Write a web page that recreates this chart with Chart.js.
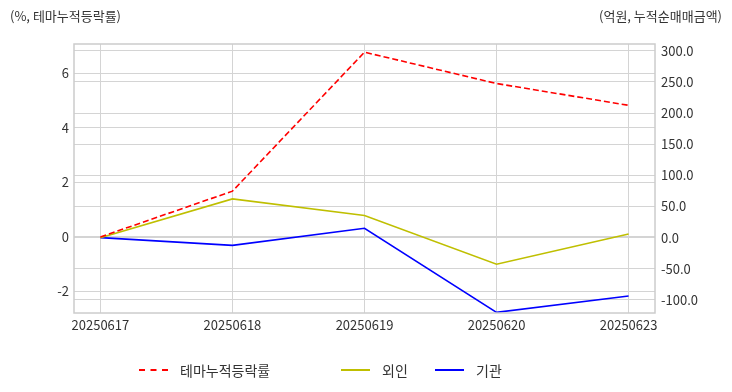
<!DOCTYPE html>
<html>
<head>
<meta charset="utf-8">
<script src="https://cdn.jsdelivr.net/npm/chart.js@4"></script>
<style>
  body { margin: 0; background: #fff; }
  .wrap { position: relative; width: 732px; height: 392px; font-family: "Noto Sans CJK KR", "Noto Sans", sans-serif; color: #333; }
  .axis-title { position: absolute; top: 6px; font-size: 13px; }
  .legend { position: absolute; top: 360px; left: 0; width: 732px; height: 20px; font-size: 14px; }
  .legend .item { position: absolute; top: 0; display: flex; align-items: center; height: 20px; }
  .legend .swatch { width: 29px; height: 0; margin-right: 12px; }
</style>
</head>
<body>
<div class="wrap">
  <canvas id="chart" width="732" height="392"></canvas>
  <div class="axis-title" style="left:10px">(%, 테마누적등락률)</div>
  <div class="axis-title" style="right:10px">(억원, 누적순매매금액)</div>
  <div class="legend" id="legend"></div>
</div>
<script>
const dates = ['20250617', '20250618', '20250619', '20250620', '20250623'];
const themeReturn = [0, 1.68, 6.78, 5.63, 4.83];
const foreignNet = [0, 62.2, 35.7, -42.6, 6.0];
const institutionNet = [0, -12.4, 15.0, -120.0, -93.6];
const leftTicks = [-2, 0, 2, 4, 6];
const rightTicks = [-100, -50, 0, 50, 100, 150, 200, 250, 300];

const tickFont = { family: '"Noto Sans CJK KR", "Noto Sans", sans-serif', size: 13 };
const gridColor = '#d4d4d4';

const seriesDefs = [
  { label: '테마누적등락률', data: themeReturn, color: '#ff0000', dash: [6, 3], axis: 'y', legendLeft: 139 },
  { label: '외인', data: foreignNet, color: '#bfbf00', dash: [], axis: 'y1', legendLeft: 341 },
  { label: '기관', data: institutionNet, color: '#0000ff', dash: [], axis: 'y1', legendLeft: 435 },
];

const frame = {
  id: 'frame',
  afterDraw(chart) {
    const { ctx, chartArea: a } = chart;
    ctx.save();
    ctx.strokeStyle = '#cccccc';
    ctx.lineWidth = 1.5;
    ctx.strokeRect(a.left, a.top, a.right - a.left, a.bottom - a.top);
    ctx.restore();
  },
};

function fixedTicks(values) {
  return (scale) => { scale.ticks = values.map((v) => ({ value: v })); };
}

new Chart(document.getElementById('chart'), {
  type: 'line',
  data: {
    datasets: seriesDefs.map((s) => ({
      label: s.label,
      data: s.data.map((v, i) => ({ x: i, y: v })),
      borderColor: s.color,
      borderWidth: 1.6,
      borderDash: s.dash,
      pointRadius: 0,
      fill: false,
      tension: 0,
      yAxisID: s.axis,
    })),
  },
  options: {
    responsive: false,
    animation: false,
    layout: { padding: { top: 44, bottom: 49, left: 0, right: 0 } },
    plugins: { legend: { display: false }, tooltip: { enabled: false } },
    scales: {
      x: {
        type: 'linear',
        min: -0.2,
        max: 4.2,
        afterBuildTicks: fixedTicks(dates.map((d, i) => i)),
        afterFit: (scale) => { scale.height = 30; },
        grid: { color: gridColor, drawTicks: false },
        border: { display: false },
        ticks: { color: '#333', font: tickFont, padding: 4, maxRotation: 0, autoSkip: false,
          callback: (v) => dates[v] ?? '' },
      },
      y: {
        position: 'left',
        min: -2.79,
        max: 7.08,
        afterBuildTicks: fixedTicks(leftTicks),
        afterFit: (scale) => { scale.width = 74; },
        grid: { color: gridColor, drawTicks: false },
        border: { display: false },
        ticks: { color: '#333', font: tickFont, padding: 5 },
      },
      y1: {
        position: 'right',
        min: -121,
        max: 311,
        afterBuildTicks: fixedTicks(rightTicks),
        afterFit: (scale) => { scale.width = 77; },
        grid: { color: gridColor, drawTicks: false },
        border: { display: false },
        ticks: { color: '#333', font: tickFont, padding: 6, callback: (v) => v.toFixed(1) },
      },
    },
  },
  plugins: [frame],
});

const legendEl = document.getElementById('legend');
legendEl.innerHTML = seriesDefs.map((s) => `
  <div class="item" style="left:${s.legendLeft}px">
    <span class="swatch" style="border-top:2px ${s.dash.length ? 'dashed' : 'solid'} ${s.color}"></span>
    <span>${s.label}</span>
  </div>
`).join('');
</script>
</body>
</html>
